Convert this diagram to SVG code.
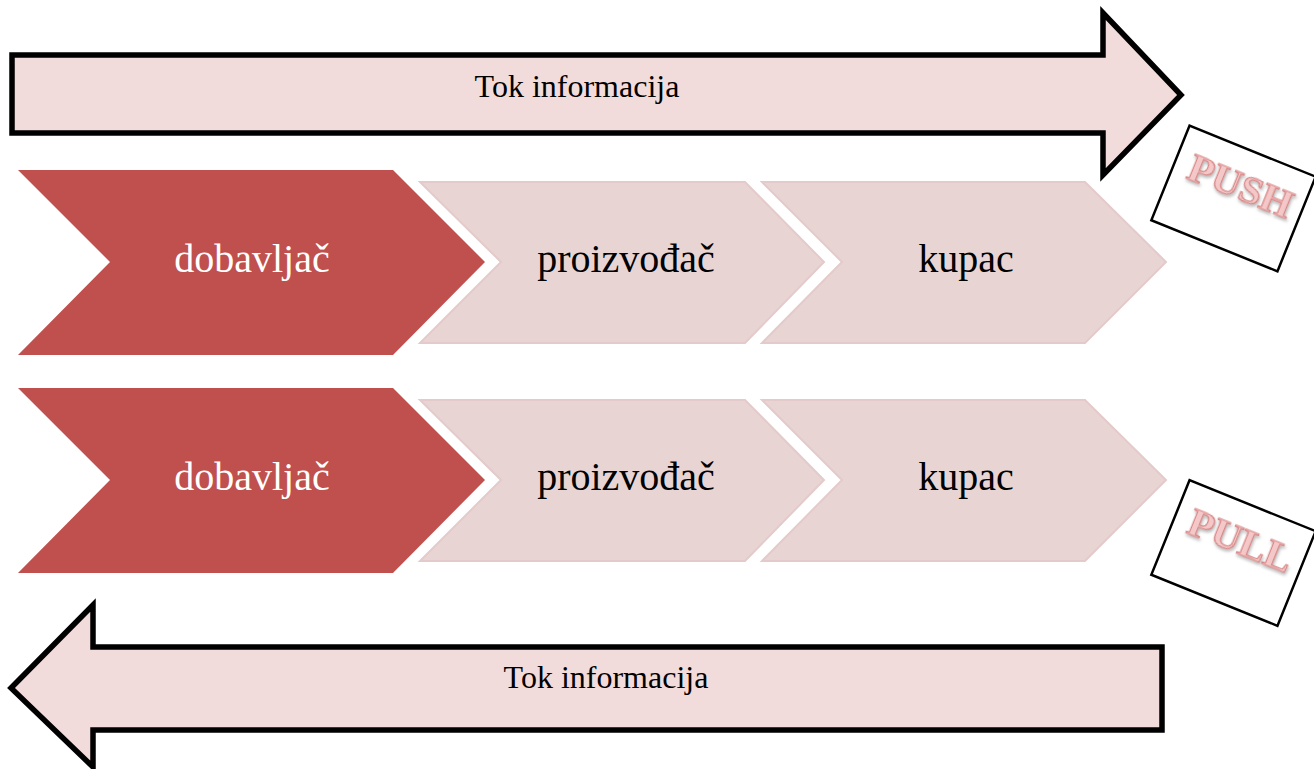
<svg xmlns="http://www.w3.org/2000/svg" width="1314" height="769" viewBox="0 0 1314 769">
<style>
.arrow{fill:#f2dcdb;stroke:#000;stroke-width:5.5;stroke-linejoin:miter}
.dark{fill:#c0504d}
.light{fill:#e9d4d4;stroke:#e4caca;stroke-width:2}
.t{font-family:"Liberation Serif","Times New Roman",serif;text-anchor:middle}
.lbl{font-size:40px}
.info{font-size:32px;fill:#000}
.card{fill:#fff;stroke:#000;stroke-width:2.5}
.stamp{font-family:"Liberation Serif","Times New Roman",serif;font-weight:bold;font-size:41px;fill:#f4c8c8;stroke:#d98585;stroke-width:1.2;text-anchor:middle}
</style>
<defs>
<filter id="sh" x="-20%" y="-20%" width="140%" height="140%">
<feDropShadow dx="1.5" dy="2" stdDeviation="1.5" flood-color="#888" flood-opacity="0.6"/>
</filter>
</defs>
<g id="connectors">
<g id="arrow-top">
<path class="arrow" d="M12,55 L1103,55 L1103,13 L1181,95 L1103,175 L1103,133 L12,133 Z"/>
<text class="t info" x="577" y="97">Tok informacija</text>
</g>
<g id="arrow-bottom">
<path class="arrow" d="M1162,647 L93,647 L93,605 L11,688 L93,767 L93,730 L1162,730 Z"/>
<text class="t info" x="606" y="688">Tok informacija</text>
</g>
</g>
<g id="push-row">
<g id="push-dobavljac">
<path class="dark" d="M18,170 L393,170 L485,262 L393,355 L18,355 L110,262 Z"/>
<text class="t lbl" x="252" y="272" fill="#fff">dobavljač</text>
</g>
<g id="push-proizvodjac">
<path class="light" d="M420,182 L745,182 L824,262 L745,343 L420,343 L501,262 Z"/>
<text class="t lbl" x="626" y="272" fill="#000">proizvođač</text>
</g>
<g id="push-kupac">
<path class="light" d="M762,182 L1085,182 L1166,262 L1085,343 L762,343 L842,262 Z"/>
<text class="t lbl" x="966" y="272" fill="#000">kupac</text>
</g>
</g>
<g id="pull-row">
<g id="pull-dobavljac">
<path class="dark" d="M18,388 L393,388 L485,480 L393,573 L18,573 L110,480 Z"/>
<text class="t lbl" x="252" y="490" fill="#fff">dobavljač</text>
</g>
<g id="pull-proizvodjac">
<path class="light" d="M420,400 L745,400 L824,480 L745,561 L420,561 L501,480 Z"/>
<text class="t lbl" x="626" y="490" fill="#000">proizvođač</text>
</g>
<g id="pull-kupac">
<path class="light" d="M762,400 L1085,400 L1166,480 L1085,561 L762,561 L842,480 Z"/>
<text class="t lbl" x="966" y="490" fill="#000">kupac</text>
</g>
</g>
<g id="push-card" transform="translate(1233.5,198.5) rotate(22)">
<rect class="card" x="-68" y="-51" width="136" height="102"/>
<text class="stamp" x="2" y="-1" filter="url(#sh)">PUSH</text>
</g>
<g id="pull-card" transform="translate(1233.5,553) rotate(22)">
<rect class="card" x="-68" y="-51" width="136" height="102"/>
<text class="stamp" x="2" y="-1" filter="url(#sh)">PULL</text>
</g>
</svg>
